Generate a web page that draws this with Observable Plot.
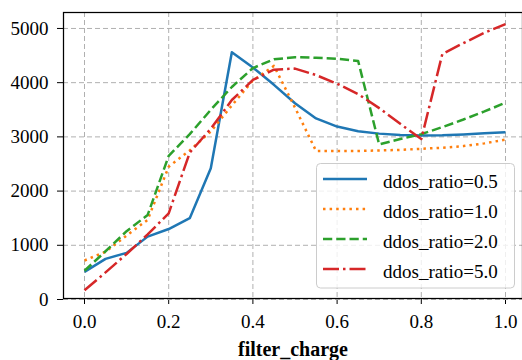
<!DOCTYPE html>
<html>
<head>
<meta charset="utf-8">
<script src="https://cdn.jsdelivr.net/npm/d3@7"></script>
<script src="https://cdn.jsdelivr.net/npm/@observablehq/plot@0.6"></script>
</head>
<body style="margin:0">
<div id="chart"></div>
<script>
const filterCharge = [0, 0.05, 0.1, 0.15, 0.2, 0.25, 0.3, 0.35, 0.4, 0.45, 0.5, 0.55, 0.6, 0.65, 0.7, 0.75, 0.8, 0.85, 0.9, 0.95, 1.0];
const ratio05 = [510, 750, 860, 1160, 1300, 1500, 2420, 4560, 4280, 3960, 3620, 3340, 3190, 3105, 3060, 3035, 3025, 3030, 3045, 3065, 3085];
const ratio10 = [720, 880, 1180, 1470, 2450, 2750, 3100, 3580, 4040, 4310, 3540, 2740, 2740, 2740, 2750, 2760, 2780, 2800, 2830, 2880, 2950];
const ratio20 = [530, 890, 1260, 1560, 2650, 3050, 3500, 3920, 4270, 4430, 4470, 4460, 4440, 4400, 2860, 2960, 3050, 3180, 3320, 3470, 3630];
const ratio50 = [170, 500, 840, 1200, 1590, 2710, 3150, 3680, 4050, 4240, 4260, 4140, 3980, 3790, 3530, 3240, 2960, 4530, 4730, 4920, 5080];

const seriesNames = ["ddos_ratio=0.5", "ddos_ratio=1.0", "ddos_ratio=2.0", "ddos_ratio=5.0"];
const seriesValues = [ratio05, ratio10, ratio20, ratio50];
const seriesColors = ["#1f77b4", "#ff7f0e", "#2ca02c", "#d62728"];
const seriesDashes = ["none", "2.5,4.1", "9.25,4", "16,4,2.5,4"];

const xTicks = [0, 0.2, 0.4, 0.6, 0.8, 1.0];
const yTicks = [0, 1000, 2000, 3000, 4000, 5000];

const lineMarks = seriesValues.map((vals, i) =>
  Plot.line(filterCharge.map((x, j) => ({x, y: vals[j]})), {
    x: "x", y: "y",
    stroke: seriesColors[i],
    strokeWidth: 2.5,
    strokeDasharray: seriesDashes[i],
    strokeLinecap: "butt",
    strokeLinejoin: "round"
  })
);

const chart = Plot.plot({
  width: 522,
  height: 360,
  marginLeft: 63,
  marginTop: 12,
  marginBottom: 62,
  marginRight: 0,
  style: "font-family: 'Liberation Serif'; font-size: 19px; background: white; color: black;",
  x: {
    domain: [-0.05, 1.05],
    range: [62.95, 526.05],
    ticks: xTicks,
    tickFormat: d => d.toFixed(1),
    tickSize: 6,
    tickPadding: 10,
    label: null
  },
  y: {
    domain: [0, 5300],
    range: [299, 11.7],
    ticks: yTicks,
    tickFormat: d => String(d),
    tickSize: 6,
    tickPadding: 9,
    label: null
  },
  marks: [
    Plot.ruleX(xTicks, {stroke: "#b0b0b0", strokeWidth: 1, strokeDasharray: "5,3"}),
    Plot.ruleY(yTicks, {stroke: "#b0b0b0", strokeWidth: 1, strokeDasharray: "5,3"}),
    ...lineMarks,
    Plot.frame({stroke: "black", strokeWidth: 1.25}),
    Plot.text(["filter_charge"], {
      frameAnchor: "bottom", dy: 51, lineAnchor: "middle",
      fontWeight: "bold", fontSize: 20, fill: "black"
    })
  ]
});

document.getElementById("chart").appendChild(chart);

// Legend box drawn on top of the plot
const svg = d3.select(chart);
const lg = svg.append("g").attr("text-anchor", "start");
lg.append("rect")
  .attr("x", 316.5).attr("y", 163.5)
  .attr("width", 198).attr("height", 124.5)
  .attr("rx", 4).attr("ry", 4)
  .attr("fill", "white").attr("fill-opacity", 0.8)
  .attr("stroke", "#cccccc").attr("stroke-width", 1);
const rowY = [179, 209, 239, 269];
seriesNames.forEach((name, i) => {
  lg.append("line")
    .attr("x1", 323).attr("x2", 367)
    .attr("y1", rowY[i]).attr("y2", rowY[i])
    .attr("stroke", seriesColors[i])
    .attr("stroke-width", 2.5)
    .attr("stroke-dasharray", seriesDashes[i]);
  lg.append("text")
    .attr("x", 383).attr("y", rowY[i] + 9)
    .attr("fill", "black")
    .text(name);
});
</script>
</body>
</html>
